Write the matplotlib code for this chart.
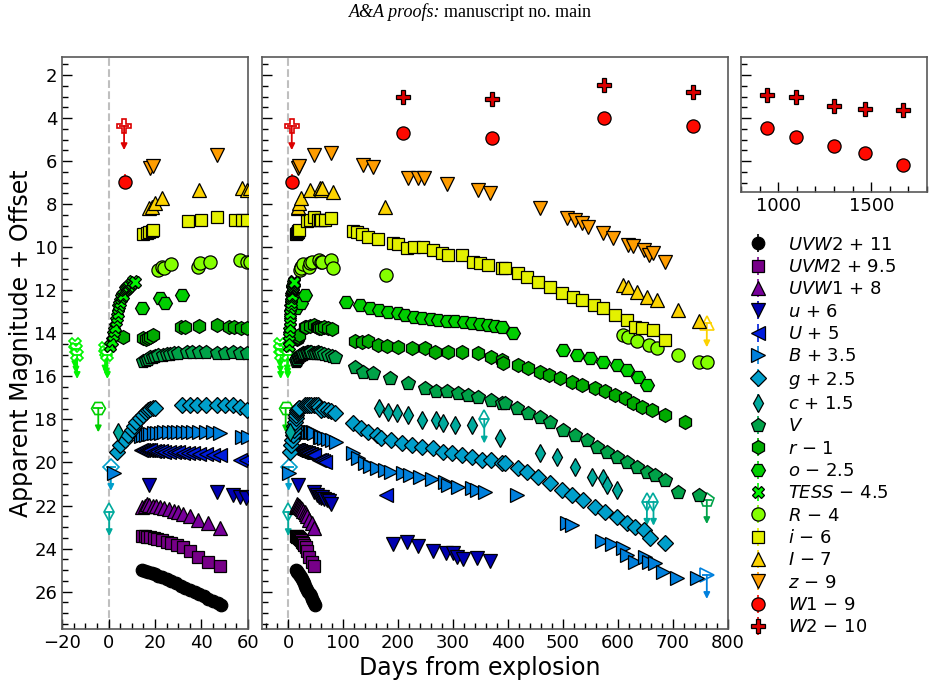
import numpy as np
import matplotlib
matplotlib.use("Agg")
import matplotlib.pyplot as plt
from matplotlib.ticker import MultipleLocator


# =========================================================
# DATA  (days from explosion, apparent magnitude)
# =========================================================

uvw2_t = [14.5, 15.5, 17, 18.5, 20, 21.5, 23, 25, 27, 29, 31, 33, 35, 37, 39, 41, 43, 45, 47, 48.5]
uvw2_m = [14.0, 14.03, 14.08, 14.13, 14.2, 14.27, 14.33, 14.43, 14.52, 14.62, 14.72, 14.82, 14.92,
          15.02, 15.12, 15.22, 15.32, 15.42, 15.52, 15.6]

uvm2_t = [14.5, 15.5, 16.5, 18, 19.5, 21, 23, 25, 27, 29.5, 32, 35, 38.5, 43, 48]
uvm2_m = [13.92, 13.93, 13.95, 13.98, 14.02, 14.07, 14.12, 14.18, 14.25, 14.33, 14.42, 14.62,
          14.87, 15.1, 15.3]

uvw1_t = [14.5, 15.5, 16.5, 17.5, 19, 20.5, 22, 24, 26, 28, 30, 32, 35, 38.5, 43, 48]
uvw1_m = [14.05, 14.0, 13.95, 13.97, 14.0, 14.03, 14.07, 14.12, 14.18, 14.24, 14.3, 14.38,
          14.48, 14.65, 14.82, 15.05]

u_t = [17.5, 46.5, 53.5, 56.5, 59, 62, 66, 70, 75, 79, 191, 217, 237, 264, 288, 300, 307, 319, 343, 367]
u_m = [15.05, 15.35, 15.5, 15.6, 15.65, 15.6, 15.68, 15.72, 15.8, 15.95, 17.8, 17.7, 17.9, 18.1,
       18.2, 18.2, 18.4, 18.5, 18.42, 18.57]

U_t = [14, 15, 16, 17, 18, 19.5, 21, 22.5, 24, 26, 28, 30, 32, 34, 36.5, 39, 42, 45, 48, 56.5, 59,
       63, 68, 179]
U_m = [14.4, 14.42, 14.42, 14.4, 14.43, 14.45, 14.47, 14.48, 14.5, 14.5, 14.52, 14.53, 14.55,
       14.55, 14.58, 14.6, 14.62, 14.63, 14.66, 14.88, 14.9, 14.93, 14.97, 16.5]

B_t = [2.5, 14, 15, 16, 17, 18, 19.5, 21, 22.5, 24, 26, 28, 30, 32, 34, 36.5, 39, 42, 45, 48, 57.5,
       60, 65, 72, 80, 88, 118, 127.5, 140, 149, 161, 176, 188, 209, 222, 240, 261, 285, 291, 310,
       334, 343, 358, 416, 507, 516, 571, 589, 610, 616, 631, 650, 656, 668, 683, 707, 744]
B_m = [17.0, 15.25, 15.22, 15.2, 15.18, 15.17, 15.15, 15.13, 15.12, 15.1, 15.1, 15.08, 15.08,
       15.07, 15.07, 15.07, 15.08, 15.08, 15.1, 15.12, 15.3, 15.32, 15.35, 15.4, 15.45, 15.53,
       16.07, 16.3, 16.54, 16.66, 16.77, 16.85, 16.92, 17.0, 17.08, 17.16, 17.28, 17.39, 17.54,
       17.62, 17.7, 17.78, 17.85, 18.0, 19.32, 19.4, 20.17, 20.3, 20.48, 20.8, 21.1, 20.87, 21.1,
       21.15, 21.6, 21.88, 21.88]

g_t = [3.5, 5, 7, 8.5, 10, 11, 12, 13.5, 15, 16, 17, 18, 19, 20, 31.5, 35, 38, 42, 46.5, 50, 53.7,
       56.6, 59.5, 65, 72, 78, 85, 118, 133.6, 146, 161, 170, 188, 206.5, 225, 243, 264, 282,
       297.6, 316, 334, 352, 370, 389, 395, 419, 434, 455, 477, 498, 516, 537, 559, 577, 598,
       616, 631, 647, 659, 686]
g_m = [17.0, 16.7, 16.45, 16.2, 16.0, 15.8, 15.6, 15.45, 15.3, 15.15, 15.06, 15.0, 14.98, 14.95,
       14.85, 14.85, 14.83, 14.83, 14.83, 14.85, 14.85, 14.9, 15.06, 15.0, 15.05, 15.1, 15.2,
       15.68, 15.91, 16.07, 16.22, 16.37, 16.45, 16.6, 16.68, 16.76, 16.84, 17.0, 17.07, 17.15,
       17.23, 17.38, 17.38, 17.54, 17.54, 17.77, 17.92, 18.16, 18.46, 18.77, 19.0, 19.24, 19.55,
       19.78, 20.01, 20.32, 20.48, 20.63, 21.02, 21.22]

c_t = [4, 165, 182, 197.5, 218.6, 243, 270, 282, 303.6, 334, 385.6, 458, 489, 522, 552.6, 574,
       580, 598]
c_m = [17.07, 15.98, 16.14, 16.21, 16.29, 16.52, 16.52, 16.68, 16.76, 16.76, 17.37, 18.07, 18.23,
       18.69, 19.16, 19.23, 19.54, 19.77]

V_t = [15, 16, 17, 18, 19, 20, 21.5, 23.6, 25, 26.5, 28, 30, 33.6, 36, 39, 42, 46.5, 50, 53.7,
       56.5, 59.5, 65, 72, 80, 85, 121.5, 136.6, 155, 185, 218.6, 249, 270, 288.5, 310, 328, 346,
       370, 389, 395, 416, 437, 458, 477, 501, 522, 543.5, 562, 580, 598, 616, 634.6, 653, 668,
       686, 710, 747]
V_m = [15.3, 15.25, 15.18, 15.12, 15.08, 15.05, 15.02, 15.0, 14.97, 14.95, 14.93, 14.9, 14.85,
       14.85, 14.85, 14.88, 14.93, 14.9, 14.85, 14.9, 14.93, 14.95, 15.0, 15.05, 15.08, 15.55,
       15.78, 15.86, 16.09, 16.32, 16.55, 16.7, 16.7, 16.78, 16.86, 16.94, 17.1, 17.25, 17.25,
       17.48, 17.71, 17.87, 18.1, 18.49, 18.72, 18.95, 19.26, 19.5, 19.73, 19.96, 20.19, 20.42,
       20.58, 20.81, 21.35, 21.5]

r_t = [6.4, 15, 16, 17, 18, 19, 31, 33, 39, 46.5, 52, 54, 57, 59.5, 66, 72, 80, 121.5, 135, 146,
       164, 180, 200, 225, 249, 267, 291, 316, 346, 370, 389, 392, 419, 437, 458, 474, 495, 516,
       534, 559, 577, 595, 613, 628.5, 644, 662, 686, 722]
r_m = [15.15, 15.2, 15.25, 15.2, 15.15, 15.1, 14.72, 14.7, 14.68, 14.62, 14.7, 14.72, 14.75,
       14.77, 14.72, 14.75, 14.8, 15.38, 15.4, 15.38, 15.54, 15.6, 15.62, 15.7, 15.7, 15.85,
       15.85, 15.85, 15.93, 16.08, 16.24, 16.39, 16.47, 16.62, 16.78, 16.93, 17.09, 17.24, 17.4,
       17.55, 17.7, 17.86, 18.02, 18.25, 18.41, 18.56, 18.79, 19.1]

o_t = [14.3, 22, 24.3, 31.5, 106, 130.6, 148.8, 165, 182, 200, 212.6, 230, 243, 260, 273, 290,
       303.6, 320, 334, 350, 364, 377, 389, 410, 501, 525, 549.5, 574, 598, 616, 637.5, 653]
o_m = [15.34, 14.87, 15.1, 14.7, 15.03, 15.18, 15.34, 15.42, 15.49, 15.57, 15.65, 15.72, 15.8,
       15.84, 15.88, 15.92, 15.95, 15.99, 16.03, 16.07, 16.11, 16.15, 16.19, 16.5, 17.27, 17.5,
       17.66, 17.81, 17.97, 18.2, 18.51, 18.9]

tess_t = [0.8, 1.4, 2, 2.5, 2.8, 3.2, 3.5, 3.9, 4.2, 4.6, 5, 5.5, 6, 6.4, 7, 7.5, 8, 8.5, 9, 9.5,
          10, 10.7, 11.3]
tess_m = [19.1, 18.88, 18.6, 18.4, 18.19, 17.95, 17.73, 17.55, 17.34, 17.2, 17.03, 16.88, 16.75,
          16.7, 16.5, 16.45, 16.38, 16.33, 16.28, 16.22, 16.18, 16.05, 16.1]

R_t = [21.4, 22.9, 24, 27, 38.6, 39.5, 43.7, 56.6, 59.5, 61, 79, 82, 179, 610, 619, 634.6, 656,
       671, 710, 747, 762]
R_m = [15.06, 14.9, 14.98, 14.8, 14.9, 14.75, 14.67, 14.6, 14.67, 14.67, 14.6, 14.98, 15.29,
       18.08, 18.15, 18.38, 18.54, 18.7, 19.0, 19.31, 19.31]

i_t = [15, 16.4, 17.5, 18.6, 19.3, 34.3, 40, 46.5, 54.4, 57.3, 59.5, 67, 79, 118, 124.6, 135, 146,
       164, 191, 200, 215.6, 230, 246, 264, 280, 291, 316, 337, 350, 364, 389, 395, 419, 434, 455,
       477, 498, 519, 534, 556, 574, 595, 616, 631, 644, 665, 686]
i_m = [15.4, 15.35, 15.3, 15.27, 15.2, 14.8, 14.73, 14.58, 14.73, 14.73, 14.73, 14.73, 14.66,
       15.25, 15.28, 15.4, 15.51, 15.63, 15.82, 15.85, 16.05, 16.0, 15.97, 16.13, 16.25, 16.36,
       16.36, 16.67, 16.75, 16.83, 16.98, 16.98, 17.21, 17.37, 17.6, 17.83, 18.14, 18.3, 18.45,
       18.68, 18.84, 19.15, 19.38, 19.69, 19.76, 19.84, 20.31]

I_t = [17.5, 18.6, 20, 22.9, 39, 57.3, 59.5, 61, 82, 176, 610, 619, 634.6, 653, 671, 710, 747]
I_m = [15.2, 15.12, 14.96, 14.73, 14.34, 14.26, 14.34, 14.26, 14.42, 15.12, 18.75, 18.83, 19.06,
       19.3, 19.45, 19.91, 20.45]

z_t = [17.8, 19.3, 46.5, 78, 136.6, 155, 217.5, 237, 248, 288.5, 346, 367, 458, 507, 522, 534,
       546.5, 574, 592, 619, 628, 647, 656, 665, 686]
z_m = [15.33, 15.25, 14.72, 14.64, 15.18, 15.26, 15.8, 15.8, 15.8, 16.06, 16.34, 16.5, 17.19,
       17.66, 17.73, 17.89, 18.05, 18.35, 18.59, 18.9, 18.95, 19.13, 19.36, 19.28, 19.67]

w1_t = [7, 209.5, 370.5, 575, 736.6, 937.6, 1098, 1298, 1468, 1669]
w1_m = [15.95, 13.68, 13.94, 13.01, 13.37, 13.48, 13.89, 14.3, 14.64, 15.19]
w1_e = [0.35, 0.05, 0.05, 0.05, 0.05, 0.05, 0.05, 0.08, 0.15, 0.2]

w2_t = [209.5, 371.6, 575, 736.6, 937.6, 1098, 1298, 1468, 1669]
w2_m = [13.04, 13.13, 12.46, 12.8, 12.93, 13.04, 13.44, 13.6, 13.63]

# upper limits: band, day, magnitude
lim_band = ["TESS", "TESS", "TESS", "TESS", "TESS", "TESS", "o", "g", "c", "W2",
            "c", "c", "c", "B", "V", "I"]
lim_t = [-14.5, -14, -13.5, -1.5, -1, -0.5, -4.4, 1.0, 0.3, 6.7,
         357, 653, 665, 762, 762, 762]
lim_m = [19.0, 19.25, 19.5, 19.2, 19.35, 19.5, 19.98, 17.7, 20.8, 14.37,
         16.5, 20.32, 20.32, 21.72, 21.74, 20.53]

bands = ["UVW2", "UVM2", "UVW1", "u", "U", "B", "g", "c", "V", "r", "o", "TESS", "R", "i", "I",
         "z", "W1", "W2"]
offsets = [11, 9.5, 8, 6, 5, 3.5, 2.5, 1.5, 0, -1, -2.5, -4.5, -4, -6, -7, -9, -9, -10]
labels = [r"$UVW2$ + 11", r"$UVM2$ + 9.5", r"$UVW1$ + 8", r"$u$ + 6", r"$U$ + 5", r"$B$ + 3.5",
          r"$g$ + 2.5", r"$c$ + 1.5", r"$V$", r"$r$ $-$ 1", r"$o$ $-$ 2.5", r"$TESS$ $-$ 4.5",
          r"$R$ $-$ 4", r"$i$ $-$ 6", r"$I$ $-$ 7", r"$z$ $-$ 9", r"$W1$ $-$ 9", r"$W2$ $-$ 10"]

times = [uvw2_t, uvm2_t, uvw1_t, u_t, U_t, B_t, g_t, c_t, V_t, r_t, o_t, tess_t, R_t, i_t, I_t,
         z_t, w1_t, w2_t]
mags = [uvw2_m, uvm2_m, uvw1_m, u_m, U_m, B_m, g_m, c_m, V_m, r_m, o_m, tess_m, R_m, i_m, I_m,
        z_m, w1_m, w2_m]

markers = ["o", "s", "^", "v", "<", ">", "D", "d", "p", "h", "H", "X", "o", "s", "^", "v", "o", "P"]
msizes = [9, 9, 10, 10, 10, 10, 8.5, 9, 10, 10, 10, 9, 9.5, 9, 10, 10, 9.5, 9.5]

colors = plt.cm.nipy_spectral(np.linspace(0, 0.9, len(bands)))

LIM_LEN = 1.12


# =========================================================
# FIGURE
# =========================================================

fig = plt.figure(figsize=(9.34, 6.89), dpi=100)

ax1 = fig.add_axes([0.0664, 0.0866, 0.1991, 0.8302])
ax2 = fig.add_axes([0.2802, 0.0866, 0.4989, 0.8302])
ax3 = fig.add_axes([0.7934, 0.7209, 0.1991, 0.1959])
axes = [ax1, ax2, ax3]

ax1.set_xlim(-20, 60)
ax2.set_xlim(-48, 800)
ax3.set_xlim(800, 1800)
ax1.set_ylim(27.75, 1.18)
ax2.set_ylim(27.75, 1.18)
ax3.set_ylim(1.18 + 135 / 21.53, 1.18)

handles = []
for k in range(len(bands)):
    t = np.array(times[k])
    m = np.array(mags[k]) + offsets[k]
    err = np.array(w1_e) if bands[k] == "W1" else 0.04
    for ax in axes:
        h = ax.errorbar(t, m, yerr=err, fmt=markers[k], ms=msizes[k], mfc=colors[k],
                        mec="k", mew=0.9, ecolor=colors[k], elinewidth=1.2, capsize=0,
                        label=labels[k], zorder=3 + k * 0.01)
        if ax is ax2:
            handles.append(h)

# upper limits: open marker, small cap and a downward arrow
for b, t, m in zip(lim_band, lim_t, lim_m):
    k = bands.index(b)
    y = m + offsets[k]
    for ax in axes:
        ax.plot([t], [y], markers[k], ms=msizes[k], mfc="white", mec=colors[k], mew=1.2,
                zorder=2)
        ax.plot([t], [y], marker="_", ms=7, color=colors[k], mew=1.3, zorder=2)
        ax.annotate("", xy=(t, y + LIM_LEN), xytext=(t, y),
                    arrowprops=dict(arrowstyle="-|>", color=colors[k], lw=1.3,
                                    mutation_scale=9, shrinkA=0, shrinkB=0), zorder=2)

for ax in [ax1, ax2]:
    ax.axvline(0, color="0.75", ls="--", lw=1.5, zorder=1)

# ticks
for ax in axes:
    ax.tick_params(which="both", direction="in", labelsize=13, top=False, right=False)
    ax.tick_params(which="major", length=7, width=1)
    ax.tick_params(which="minor", length=4, width=1)
    ax.yaxis.set_major_locator(MultipleLocator(2))
    ax.yaxis.set_minor_locator(MultipleLocator(0.5))
    for s in ax.spines.values():
        s.set_color("0.35")
        s.set_linewidth(1.2)

ax1.xaxis.set_major_locator(MultipleLocator(20))
ax1.xaxis.set_minor_locator(MultipleLocator(5))
ax2.xaxis.set_major_locator(MultipleLocator(100))
ax2.xaxis.set_minor_locator(MultipleLocator(20))
ax3.xaxis.set_major_locator(MultipleLocator(500))
ax3.xaxis.set_minor_locator(MultipleLocator(100))
ax2.set_yticklabels([])
ax3.set_yticklabels([])

fig.legend(handles, labels, loc="upper left", bbox_to_anchor=(0.797, 0.658), frameon=False,
           fontsize=13, labelspacing=0.24, handlelength=1.5, handletextpad=0.9,
           borderpad=0, borderaxespad=0)

fig.text(0.514, 0.031, "Days from explosion", ha="center", va="center", fontsize=17)
fig.text(0.022, 0.502, "Apparent Magnitude + Offset", ha="center", va="center",
         rotation=90, fontsize=17)

fig.text(0.472, 0.982, "A&A proofs:", ha="right", va="center", fontsize=13,
         family="Liberation Serif", style="italic")
fig.text(0.475, 0.982, "manuscript no. main", ha="left", va="center", fontsize=13,
         family="Liberation Serif")

fig.savefig("out.png", dpi=100)
